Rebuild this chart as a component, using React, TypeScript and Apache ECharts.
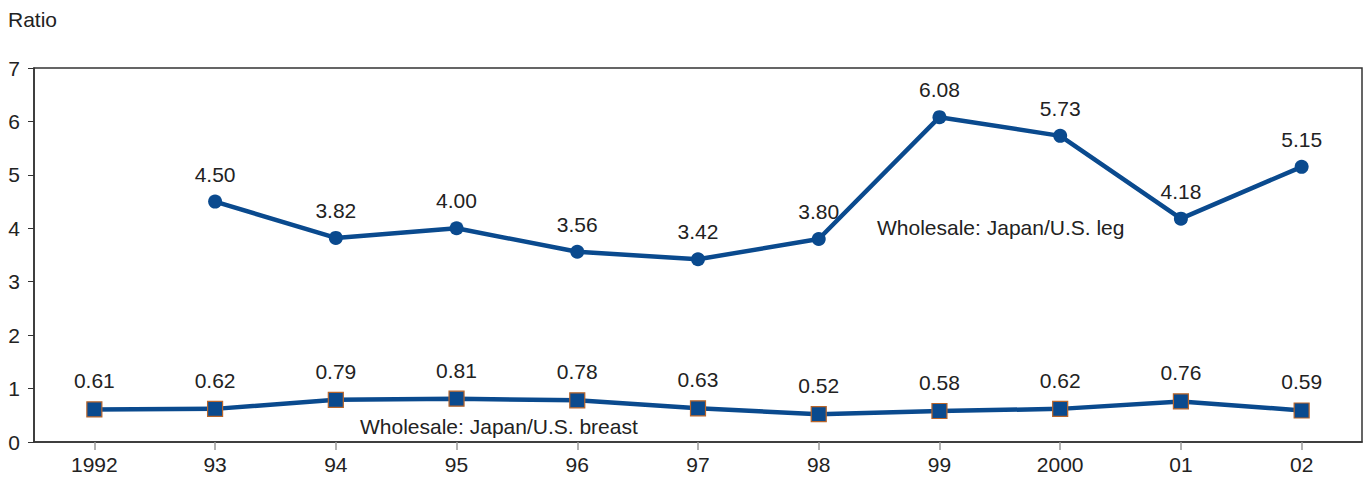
import React, { useEffect, useRef } from "react";
import * as echarts from "echarts";

const categories = ["1992", "93", "94", "95", "96", "97", "98", "99", "2000", "01", "02"];
const legValues: (number | null)[] = [null, 4.5, 3.82, 4.0, 3.56, 3.42, 3.8, 6.08, 5.73, 4.18, 5.15];
const breastValues = [0.61, 0.62, 0.79, 0.81, 0.78, 0.63, 0.52, 0.58, 0.62, 0.76, 0.59];
const yTicks = [0, 1, 2, 3, 4, 5, 6, 7];

const FONT = "Liberation Sans, Arial, sans-serif";
const BLUE = "#0a4a8e";
const FS = 21;

export default function App() {
  const ref = useRef<HTMLDivElement>(null);
  useEffect(() => {
    if (!ref.current) return;
    const chart = echarts.init(ref.current, null, { renderer: "svg" });
    const label = {
      show: true,
      position: "top",
      distance: 10,
      fontSize: FS,
      color: "#222",
      fontFamily: FONT,
      formatter: (p: any) => (p.value == null ? "" : Number(p.value).toFixed(2)),
    };
    chart.setOption({
      animation: false,
      grid: {
        left: 34,
        right: 4,
        top: 68,
        bottom: 36,
        show: true,
        borderColor: "#333",
        borderWidth: 1.5,
        backgroundColor: "transparent",
      },
      xAxis: {
        type: "category",
        data: categories,
        boundaryGap: true,
        axisLine: { show: true, lineStyle: { color: "#333", width: 1.5 } },
        axisTick: { show: true, alignWithLabel: true, length: 8, lineStyle: { color: "#999", width: 1.5 } },
        axisLabel: { fontSize: FS, color: "#222", fontFamily: FONT, margin: 12 },
        splitLine: { show: false },
      },
      yAxis: {
        type: "value",
        min: yTicks[0],
        max: yTicks[yTicks.length - 1],
        interval: 1,
        axisLine: { show: true, lineStyle: { color: "#333", width: 1.5 } },
        axisTick: { show: true, length: 6, lineStyle: { color: "#333", width: 1 } },
        axisLabel: { fontSize: FS, color: "#222", fontFamily: FONT, margin: 14 },
        splitLine: { show: false },
      },
      graphic: [
        { type: "text", left: 8, top: 9, style: { text: "Ratio", fontSize: FS, fill: "#222", fontFamily: FONT } },
        { type: "text", left: 877, top: 217, style: { text: "Wholesale: Japan/U.S. leg", fontSize: FS, fill: "#222", fontFamily: FONT } },
        { type: "text", left: 360, top: 416, style: { text: "Wholesale: Japan/U.S. breast", fontSize: FS, fill: "#222", fontFamily: FONT } },
      ],
      series: [
        {
          name: "Wholesale: Japan/U.S. leg",
          type: "line",
          data: legValues,
          symbol: "circle",
          symbolSize: 14,
          lineStyle: { color: BLUE, width: 4.5 },
          itemStyle: { color: BLUE },
          label,
        },
        {
          name: "Wholesale: Japan/U.S. breast",
          type: "line",
          data: breastValues,
          symbol: "rect",
          symbolSize: 15,
          lineStyle: { color: BLUE, width: 4.5 },
          itemStyle: { color: BLUE, borderColor: "#b8652a", borderWidth: 1.2 },
          label,
        },
      ],
    });
    return () => chart.dispose();
  }, []);
  return <div ref={ref} style={{ width: 1366, height: 478, position: "absolute", left: 0, top: 0 }} />;
}
